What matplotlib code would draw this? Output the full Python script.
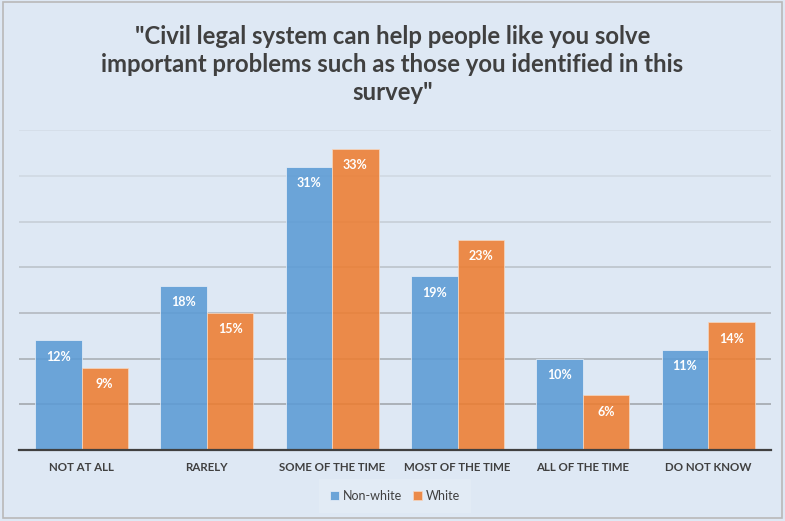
import matplotlib.pyplot as plt
import numpy as np
from matplotlib.patches import Rectangle

plt.rcParams['font.family'] = ['Lato', 'DejaVu Sans']

# Daten
categories = ['NOT AT ALL', 'RARELY', 'SOME OF THE TIME', 'MOST OF THE TIME',
              'ALL OF THE TIME', 'DO NOT KNOW']
non_white = [12, 18, 31, 19, 10, 11]
white = [9, 15, 33, 23, 6, 14]
series_names = ['Non-white', 'White']

bg = '#dee8f4'
blue = '#5b9bd5'
orange = '#ed7d31'

fig = plt.figure(figsize=(7.85, 5.21), dpi=100, facecolor=bg)
ax = fig.add_axes([0.024, 0.136, 0.958, 0.614])
ax.set_facecolor(bg)

x = np.arange(len(categories))
w = 0.37
b1 = ax.bar(x - w / 2, non_white, w, color=blue, alpha=0.88, edgecolor='#e6eef8',
            linewidth=0.6, zorder=3, label=series_names[0])
b2 = ax.bar(x + w / 2, white, w, color=orange, alpha=0.88, edgecolor='#f5d6c0',
            linewidth=0.6, zorder=3, label=series_names[1])

# Beschriftungen in den Balken
for bars, vals in ((b1, non_white), (b2, white)):
    for r, v in zip(bars, vals):
        ax.text(r.get_x() + r.get_width() / 2, v - 1.8, f'{v}%', ha='center',
                va='center', color='white', fontsize=9, fontweight='bold', zorder=4)

ax.set_xlim(-0.5, len(categories) - 0.5)
ax.set_ylim(0, 35)
ax.set_yticks(np.arange(0, 36, 5))
ax.yaxis.grid(True, linewidth=1.2, zorder=0)
grid_cols = ['#9ea4aa', '#a2a8ae', '#aab0b6', '#b3b9c0', '#bcc3ca', '#c6ced6', '#d0d9e2', '#d4dde7']
for gl, c in zip(ax.get_ygridlines(), grid_cols):
    gl.set_color(c)
ax.tick_params(axis='y', left=False, labelleft=False)
ax.tick_params(axis='x', bottom=False, pad=5)
ax.set_xticks(x)
ax.set_xticklabels(categories, fontsize=8.3, color='#404040', fontweight='bold')
for s in ['top', 'right', 'left']:
    ax.spines[s].set_visible(False)
ax.spines['bottom'].set_color('#404040')
ax.spines['bottom'].set_linewidth(1.6)
ax.spines['bottom'].set_zorder(5)

fig.suptitle('"Civil legal system can help people like you solve\n'
             'important problems such as those you identified in this\n'
             'survey"', y=0.952, fontsize=17.2, fontweight='bold', color='#404040',
             linespacing=1.25)

leg = fig.legend(handles=[b1, b2], loc='center', bbox_to_anchor=(0.503, 0.048),
                 ncol=2, frameon=True, fontsize=9, handlelength=0.7, handleheight=0.7,
                 handletextpad=0.3, columnspacing=0.9, borderpad=0.6)
leg.get_frame().set_facecolor('#e4ecf6')
leg.get_frame().set_edgecolor('none')
leg.get_frame().set_boxstyle('square')
for t in leg.get_texts():
    t.set_color('#404040')

# Rahmen
fig.patches.append(Rectangle((0.004, 0.006), 0.992, 0.99, transform=fig.transFigure,
                             fill=False, edgecolor='#b9b9b9', linewidth=1.2))

fig.savefig('out.png', dpi=100, facecolor=bg)
